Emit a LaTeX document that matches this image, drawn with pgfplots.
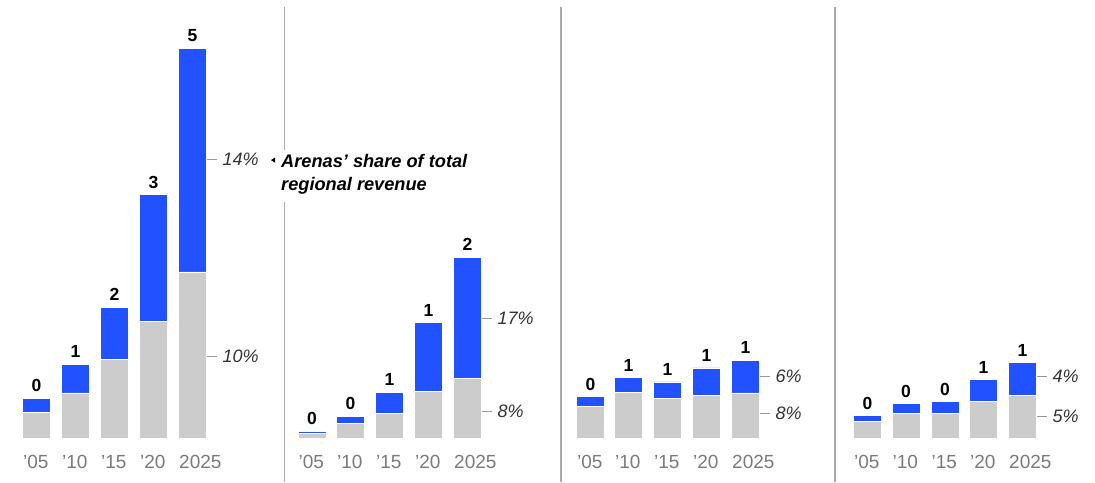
\documentclass[border=0pt]{standalone}
\usepackage{pgfplots}
\pgfplotsset{compat=1.18}
\usepackage{pgfplotstable}
\usepackage{fontspec}
\setmainfont{Liberation Sans}
\definecolor{mblue}{HTML}{2251FF}
\definecolor{mgray}{HTML}{CCCCCC}
\definecolor{ticklab}{HTML}{7A7A7A}
\definecolor{sepline}{HTML}{AAAAAA}
\definecolor{pcttick}{HTML}{999999}

% values in billions (approx.), x = bar position
\pgfplotstableread{
x      gray  blue  lab
36.5   0.33  0.18  0
75.5   0.58  0.37  1
114.5  1.01  0.67  2
153.5  1.50  1.62  3
192.5  2.13  2.87  5
312    0.06  0.03  0
350.5  0.19  0.09  0
389.5  0.32  0.27  1
428.5  0.60  0.88  1
467.5  0.77  1.55  2
590.5  0.41  0.12  0
628.5  0.59  0.19  1
667.5  0.51  0.21  1
706.5  0.55  0.35  1
745.5  0.58  0.42  1
867.5  0.21  0.08  0
906    0.32  0.12  0
945    0.32  0.15  0
983.5  0.47  0.28  1
1022.5 0.55  0.42  1
}\data

\newcommand\pct[3]{\draw[pcttick, line width=1pt] (axis cs:#1,#2) -- ++(10pt,0pt)
  node[right, inner sep=0pt, xshift=5pt, text=black!80, font=\fontsize{18}{18}\selectfont\itshape]{#3};}

\pgfplotsset{common/.style={
  scale only axis, width=1095pt, height=482pt,
  xmin=0, xmax=1095, ymin=-0.5641, ymax=5.6154,
  axis line style={draw=none},
  ytick=\empty, clip=false}}

\begin{document}
\begin{tikzpicture}
\begin{axis}[
  common,
  xtick={36.5,75.5,114.5,153.5,192.5,312,350.5,389.5,428.5,467.5,590.5,628.5,667.5,706.5,745.5,867.5,906,945,983.5,1022.5},
  xticklabels={’05,’10,’15,’20,2025,’05,’10,’15,’20,2025,’05,’10,’15,’20,2025,’05,’10,’15,’20,2025},
  major tick length=0pt,
  xticklabel style={anchor=west, xshift=-13.5pt, yshift=20pt, font=\fontsize{19}{19}\selectfont, text=ticklab, inner sep=0pt},
  ybar stacked, bar width=27.6pt,
]
\addplot[fill=mgray, draw=white, line width=0.6pt] table[x=x,y=gray]{\data};
\addplot[fill=mblue, draw=white, line width=0.6pt] table[x=x,y=blue]{\data};

\path (rel axis cs:0,0) rectangle (rel axis cs:1,1);

% separators
\draw[sepline, line width=1.6pt] (axis cs:284.5,5.526) -- (axis cs:284.5,3.692);
\draw[sepline, line width=1.6pt] (axis cs:284.5,3.026) -- (axis cs:284.5,-0.5641);
\draw[sepline, line width=1.6pt] (axis cs:560.7,5.526) -- (axis cs:560.7,-0.5641);
\draw[sepline, line width=1.6pt] (axis cs:835,5.526) -- (axis cs:835,-0.5641);

% percentage labels
\pct{207}{3.577}{14\%}
\pct{207}{1.051}{10\%}
\pct{482}{1.538}{17\%}
\pct{482}{0.346}{8\%}
\pct{760}{0.795}{6\%}
\pct{760}{0.321}{8\%}
\pct{1037}{0.795}{4\%}
\pct{1037}{0.282}{5\%}

% annotation
\fill (axis cs:271,3.564) -- ++(4pt,2.6pt) -- ++(0pt,-5.2pt) -- cycle;
\node[anchor=base west, inner sep=0pt, font=\fontsize{18.2}{18.2}\selectfont\bfseries\itshape] at (axis cs:281,3.474) {Arenas’ share of total};
\node[anchor=base west, inner sep=0pt, font=\fontsize{18.2}{18.2}\selectfont\bfseries\itshape] at (axis cs:281,3.18) {regional revenue};
\end{axis}

% value labels on top of each stack
\begin{axis}[common, xtick=\empty]
\addplot[only marks, mark=none,
  nodes near coords, point meta=explicit symbolic,
  nodes near coords style={anchor=south, inner sep=0pt, yshift=6pt, text=black, font=\fontsize{17.5}{17.5}\selectfont\bfseries}]
  table[x=x, y expr=\thisrow{gray}+\thisrow{blue}, meta=lab]{\data};
\end{axis}
\end{tikzpicture}
\end{document}
